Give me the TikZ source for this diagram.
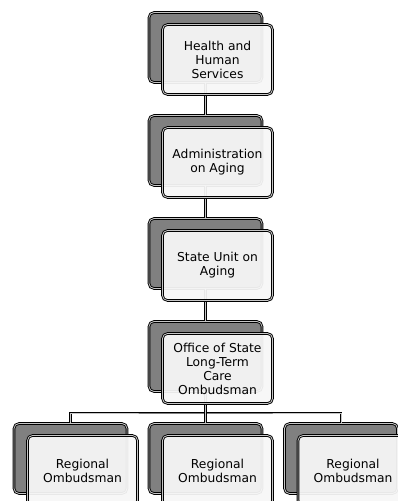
\documentclass[tikz,border=0pt]{standalone}
\usepackage{fontspec}
\setmainfont{DejaVu Sans}
\usetikzlibrary{positioning}

\tikzset{
  back/.style={draw=black, line width=0.9pt, double=gray!45, double distance=0.8pt,
    rounded corners=5pt, fill=gray, minimum width=113pt, minimum height=70pt, inner sep=0pt},
  front/.style={draw=black, line width=0.9pt, double=gray!45, double distance=0.8pt,
    rounded corners=5pt, fill=gray!6, fill opacity=0.94, text opacity=1,
    minimum width=110pt, minimum height=70pt, inner sep=0pt, align=center,
    font=\fontsize{12.3}{14}\selectfont},
  conn/.style={draw=black, line width=0.9pt, double=gray!45, double distance=0.8pt}
}

\begin{document}
\begin{tikzpicture}[x=1pt,y=-1pt]
  \useasboundingbox (0,0) rectangle (398,501);
  \clip (0,0) rectangle (398,501);

  % back boxes
  \node[back] (hhsb) at (205.5,47.5) {};
  \node[back] (aoab) at (205.5,150.5) {};
  \node[back] (suab) at (205.5,253.5) {};
  \node[back] (ltcb) at (205.5,356.5) {};
  \node[back] (reg1b) at (70.5,458.5) {};
  \node[back] (reg2b) at (205.5,458.5) {};
  \node[back] (reg3b) at (341,458.5) {};

  % connectors
  \coordinate (bar) at (205.5,413);
  \draw[conn] (hhsb) -- (aoab);
  \draw[conn] (aoab) -- (suab);
  \draw[conn] (suab) -- (ltcb);
  \draw[conn] (reg1b) |- (bar) -| (reg3b);
  \draw[conn] (ltcb) -- (reg2b);

  % front boxes
  \node[front] (hhs) at ([xshift=12pt,yshift=-12pt]hhsb.center) {Health and\\Human\\Services};
  \node[front] (aoa) at ([xshift=12pt,yshift=-12pt]aoab.center) {Administration\\on Aging};
  \node[front] (sua) at ([xshift=12pt,yshift=-12pt]suab.center) {State Unit on\\Aging};
  \node[front] (ltc) at ([xshift=12pt,yshift=-12pt]ltcb.center) {Office of State\\Long-Term\\Care\\Ombudsman};
  \node[front] (reg1) at ([xshift=12pt,yshift=-12pt]reg1b.center) {Regional\\Ombudsman};
  \node[front] (reg2) at ([xshift=12pt,yshift=-12pt]reg2b.center) {Regional\\Ombudsman};
  \node[front] (reg3) at ([xshift=12pt,yshift=-12pt]reg3b.center) {Regional\\Ombudsman};
\end{tikzpicture}
\end{document}
